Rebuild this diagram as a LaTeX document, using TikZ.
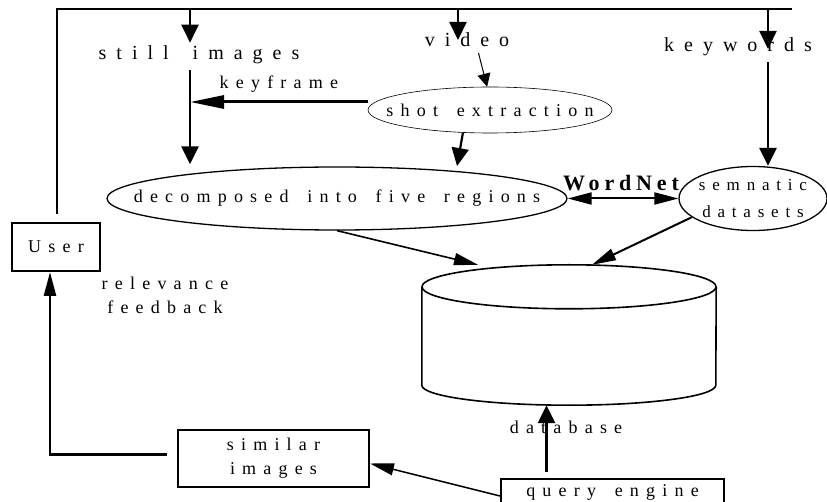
\documentclass[tikz,border=0pt]{standalone}
\usepackage{fontspec}
\usetikzlibrary{arrows.meta,shapes.geometric}

\newfontfamily\lblfont{Liberation Serif}[LetterSpace=40, WordSpace=1.6]
\newfontfamily\toplblfont{Liberation Serif}[LetterSpace=50, WordSpace=1.6]
\newfontfamily\netfont{Liberation Serif}[LetterSpace=22]

\tikzset{
    lbl/.style={font={\lblfont\fontsize{18}{24}\selectfont}, inner sep=0pt, align=center},
    toplbl/.style={font={\toplblfont\fontsize{20}{24}\selectfont}, inner sep=0pt},
    box/.style={draw, line width=2pt, inner sep=0pt},
    arr/.style={-{Triangle[length=18pt,width=17pt]}, line width=2.2pt},
    slimarr/.style={-{Triangle[length=24pt,width=12pt]}, line width=1.6pt},
}

\begin{document}
\begin{tikzpicture}[x=1pt, y=-1pt]
        \useasboundingbox (0,0) rectangle (827,502);

        \node[toplbl] (still) at (199,55) {still images};
        \node[toplbl] (video) at (467,40) {video};
        \node[toplbl] (keywords) at (738,47) {keywords};

        \node[draw, ellipse, line width=0.6pt, minimum width=244pt, minimum height=46pt, label={[lbl]center:shot extraction}] (shot) at (490,110) {};
        \node[draw, ellipse, line width=1.3pt, minimum width=460pt, minimum height=63pt, label={[lbl]center:decomposed into five regions}] (dec) at (337,198.5) {};
        \node[draw, ellipse, line width=1.3pt, minimum width=148pt, minimum height=64pt, label={[lbl, font={\lblfont\fontsize{17}{27}\selectfont}]center:semnatic\\datasets}] (sem) at (753,198.5) {};
        \node[inner sep=0pt, font={\netfont\bfseries\fontsize{22}{24}\selectfont}] (wordnet) at (621,183) {WordNet};

        \node[box, lbl, minimum width=88pt, minimum height=48pt] (user) at (56,247) {User};
        \node[lbl] (feedback) at (165,295) {relevance\\feedback};
        \node[box, lbl, minimum width=191pt, minimum height=57pt] (similar) at (273.5,458.5) {similar\\images};
        \node[box, lbl, minimum width=223pt, minimum height=26pt, anchor=north] (query) at (612.5,478) {query engine};

        % database drum
        \node[minimum width=294pt, minimum height=140pt, inner sep=0pt] (db) at (569,335) {};
        \draw[line width=1.6pt] ([yshift=-22pt]db.north) ellipse [x radius=147pt, y radius=22pt];
        \draw[line width=1.6pt] ([yshift=-22pt]db.north west) -- ([yshift=20pt]db.south west)
            arc [start angle=180, end angle=360, x radius=147pt, y radius=20pt] -- ([yshift=-22pt]db.north east);
        \node[lbl] (dblabel) at (566,427) {database};

        \coordinate (ts) at (190,9);
        \coordinate (tv) at (458,9);
        \coordinate (tk) at (768,9);
        \coordinate (topend) at (792,9);

        \draw[line width=2.3pt, shorten <=8pt] ([xshift=1pt]user.north) |- (topend);

        \begin{scope}[arr]
            \draw (ts) -- ([yshift=3pt]ts |- still.north);
            \draw (tv) -- (tv |- video.center);
            \draw (tk) -- ([yshift=-2pt]tk |- keywords.center);
            \draw[line width=2.6pt, shorten <=6pt] (ts |- still.south) -- ([yshift=2pt]ts |- dec.north);
            \draw[line width=2.6pt, shorten <=6pt] (tk |- keywords.south) -- (tk |- sem.north);
            \draw[shorten >=5pt] (shot.-140) -- (dec.13);
            \draw[line width=2.5pt, shorten <=6pt] ([xshift=-66pt]query.north) -- ([xshift=-66pt]query.north |- db.south);
        \end{scope}

        \draw[-{Triangle[length=13pt,width=13pt]}, line width=1pt, shorten <=6pt] ([xshift=10pt]video.south) -- (shot.97);
        \draw[-{Triangle[length=34pt,width=13pt]}, line width=3pt] ([yshift=8pt]shot.west) -- node[lbl, above=8pt] {keyframe} ([yshift=8pt]shot.west -| ts);

        \begin{scope}[slimarr]
            \draw[{Triangle[length=24pt,width=12pt]}-{Triangle[length=24pt,width=12pt]}, line width=2pt] (dec.east) -- (sem.west);
            \draw (dec.south) -- ([xshift=-91pt]db.north);
            \draw[line width=2pt] (sem.-163) -- ([xshift=23pt]db.north);
            \draw[line width=1.5pt] ([yshift=-4pt]query.west) -- ([yshift=-5pt]similar.east);
            \draw[line width=2.5pt, shorten <=10pt] ([yshift=4pt]similar.west) -| ([xshift=-6pt]user.south);
        \end{scope}
    \end{tikzpicture}
\end{document}
